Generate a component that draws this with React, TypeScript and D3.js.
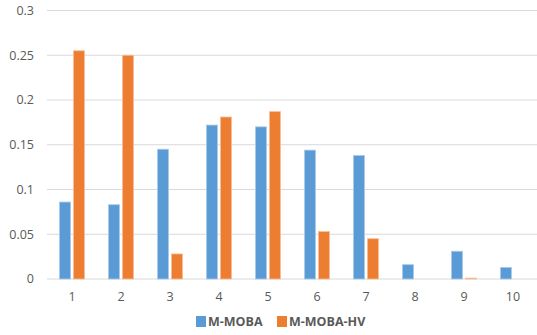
import React from "react";
import * as d3 from "d3";

const categories = ["1", "2", "3", "4", "5", "6", "7", "8", "9", "10"];
const mMoba = [0.086, 0.083, 0.145, 0.172, 0.17, 0.144, 0.138, 0.016, 0.031, 0.013];
const mMobaHv = [0.255, 0.25, 0.028, 0.181, 0.187, 0.053, 0.045, 0, 0.001, 0];
const yTicks = [0, 0.05, 0.1, 0.15, 0.2, 0.25, 0.3];
const seriesNames = ["M-MOBA", "M-MOBA-HV"];
const colors = ["#5B9BD5", "#ED7D31"];
const strokes = ["#A9CBEA", "#F6BE98"];

export default function App() {
  const W = 537, H = 335;
  const x = d3.scaleBand<string>().domain(categories).range([47.5, 537.5]);
  const y = d3.scaleLinear().domain([0, 0.3]).range([279, 10.5]);
  const bw = 11, gap = 3;
  const series = [mMoba, mMobaHv];
  const fmt = (v: number) => (v === 0 ? "0" : String(v));
  return (
    <svg width={W} height={H} style={{ position: "absolute", left: 0, top: 0, fontFamily: "'Open Sans', 'Liberation Sans', sans-serif" }}>
      <rect width={W} height={H} fill="#fff" />
      {yTicks.map((t) => (
        <g key={t}>
          <line x1={47} x2={537} y1={y(t)} y2={y(t)} stroke="#D9D9D9" strokeWidth={1} />
          <text x={34} y={y(t)} dy="0.35em" textAnchor="end" fontSize={12.5} fill="#595959">{fmt(t)}</text>
        </g>
      ))}
      {categories.map((c, i) => {
        const cx = (x(c) as number) + x.bandwidth() / 2;
        return (
          <g key={c}>
            {series.map((s, k) => {
              const v = s[i];
              if (v <= 0) return null;
              const bx = k === 0 ? cx - gap / 2 - bw : cx + gap / 2;
              return (
                <rect key={k} x={bx} y={y(v)} width={bw} height={y(0) - y(v)} fill={colors[k]} stroke={strokes[k]} strokeWidth={0.8} />
              );
            })}
            <text x={cx} y={297} dy="0.35em" textAnchor="middle" fontSize={12.5} fill="#595959">{c}</text>
          </g>
        );
      })}
      {seriesNames.map((n, k) => {
        const lx = k === 0 ? 196 : 277;
        return (
          <g key={n}>
            <rect x={lx} y={316} width={10} height={11} fill={colors[k]} />
            <text x={lx + 12} y={322} dy="0.35em" fontSize={12.5} fontWeight="bold" fill="#595959">{n}</text>
          </g>
        );
      })}
    </svg>
  );
}
